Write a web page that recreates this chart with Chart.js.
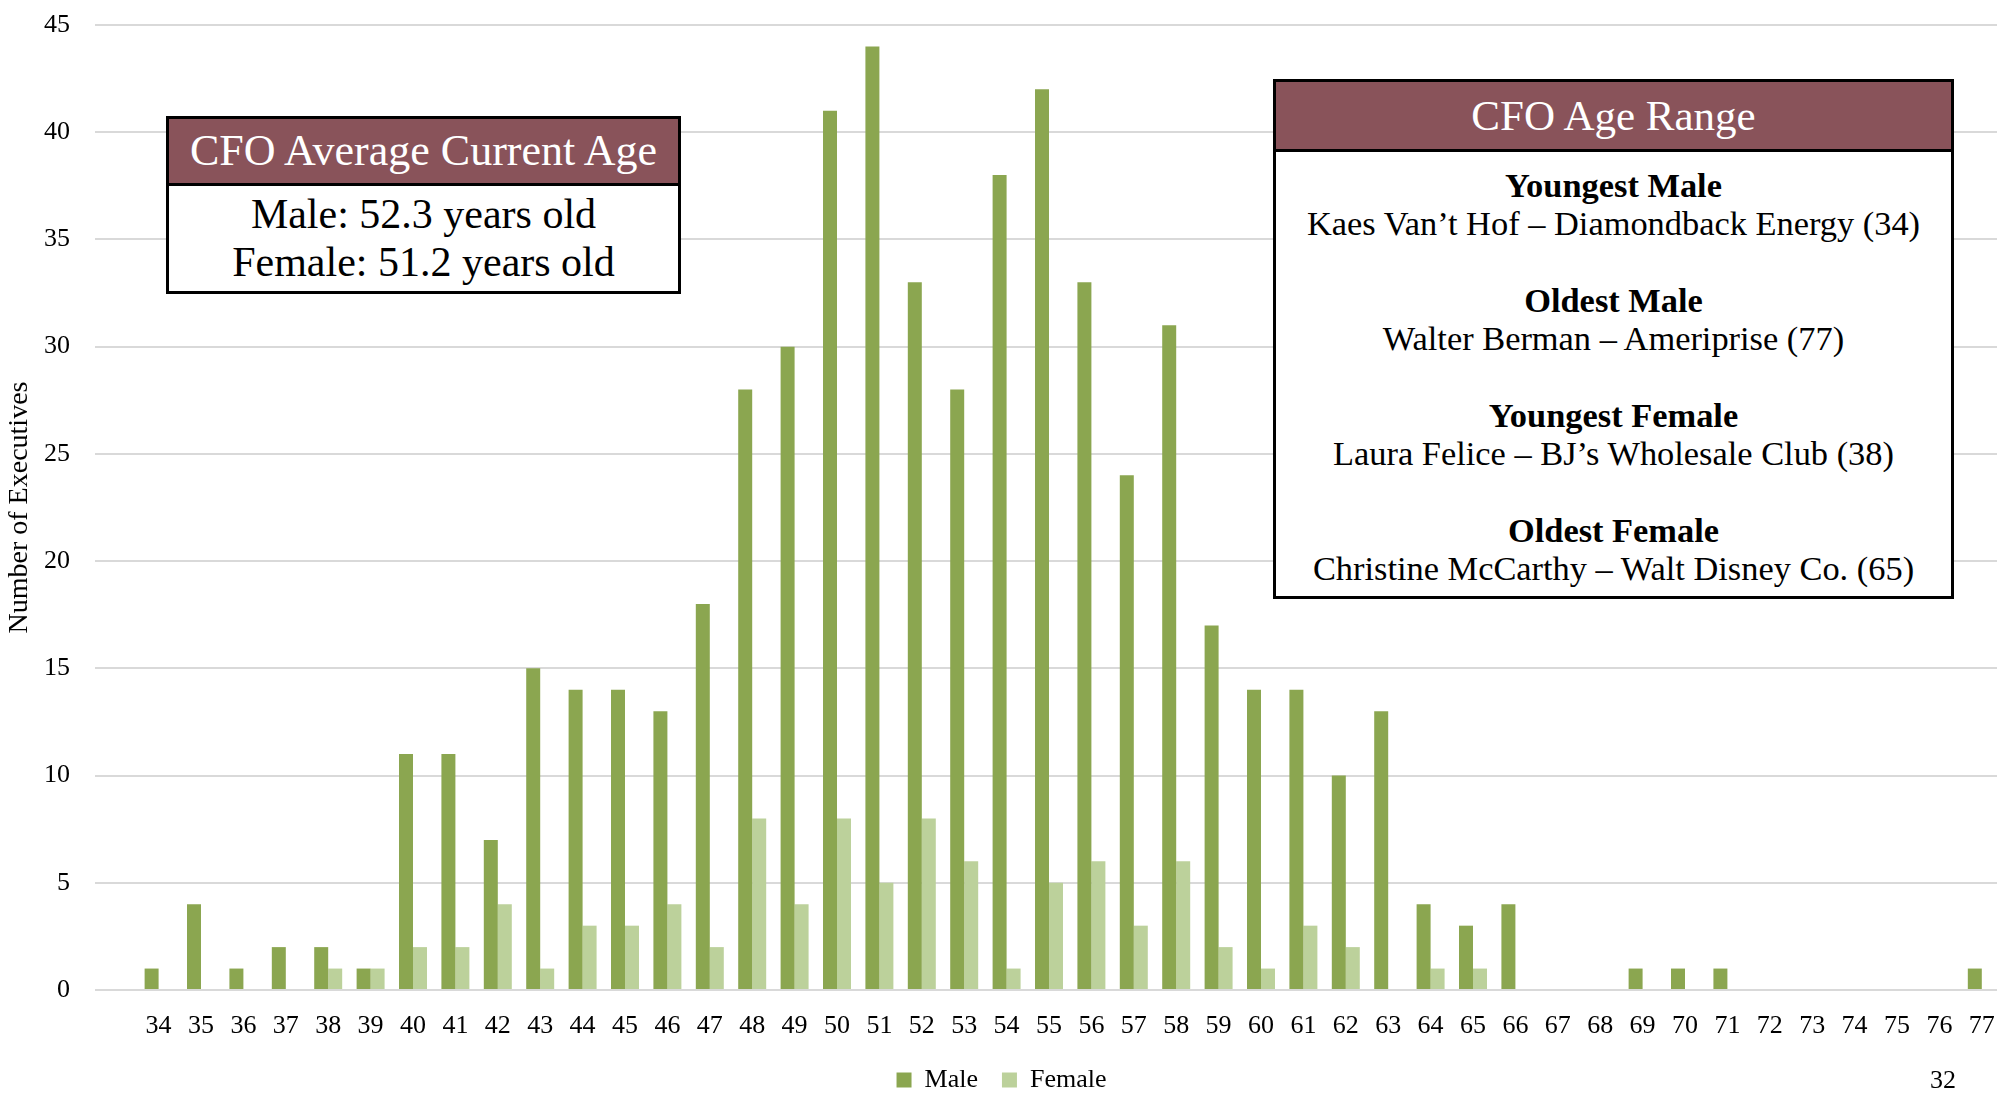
<!DOCTYPE html>
<html>
<head>
<meta charset="utf-8">
<title>CFO Age Distribution</title>
<script src="https://cdn.jsdelivr.net/npm/chart.js@4.4.1/dist/chart.umd.min.js"></script>
<style>
  html, body { margin: 0; padding: 0; background: #fff; overflow: hidden; }
  body { width: 1997px; height: 1093px; position: relative; font-family: "Liberation Serif", serif; }
  #wrap { position: absolute; left: 0; top: 0; width: 2003px; height: 1093px; }
  .box { position: absolute; box-sizing: border-box; border: 3px solid #000; background: #fff; text-align: center; }
  .box .head { background: #89535a; color: #fff; border-bottom: 3px solid #000; box-sizing: border-box; }
  #avgBox { left: 166px; top: 116px; width: 515px; height: 178px; }
  #avgBox .head { height: 67px; line-height: 64px; font-size: 44px; }
  #avgBox .body { font-size: 42px; line-height: 48px; padding-top: 4px; }
  #rangeBox { left: 1273px; top: 79px; width: 681px; height: 520px; }
  #rangeBox .head { height: 70px; line-height: 67px; font-size: 43px; }
  #rangeBox .body { font-size: 34.4px; line-height: 38px; padding-top: 14px; }
  #rangeBox .grp { margin-bottom: 39px; }
  #rangeBox b { font-weight: bold; }
  #pageNo { position: absolute; left: 1930px; top: 1065px; font-size: 26px; color: #000; }
</style>
</head>
<body>
<div id="wrap"><canvas id="myChart"></canvas></div>

<div class="box" id="avgBox">
  <div class="head">CFO Average Current Age</div>
  <div class="body">Male: 52.3 years old<br>Female: 51.2 years old</div>
</div>

<div class="box" id="rangeBox">
  <div class="head">CFO Age Range</div>
  <div class="body">
    <div class="grp"><b>Youngest Male</b><br>Kaes Van’t Hof – Diamondback Energy (34)</div>
    <div class="grp"><b>Oldest Male</b><br>Walter Berman – Ameriprise (77)</div>
    <div class="grp"><b>Youngest Female</b><br>Laura Felice – BJ’s Wholesale Club (38)</div>
    <div class="grp"><b>Oldest Female</b><br>Christine McCarthy – Walt Disney Co. (65)</div>
  </div>
</div>

<div id="pageNo">32</div>

<script>
// ages 34..77
const ages = ['34','35','36','37','38','39','40','41','42','43','44','45','46','47','48','49','50','51','52','53','54','55',
  '56','57','58','59','60','61','62','63','64','65','66','67','68','69','70','71','72','73','74','75','76','77'];
const maleCounts = [1,4,1,2,2,1,11,11,7,15,14,14,13,18,28,30,41,44,33,28,38,42,
  33,24,31,17,14,14,10,13,4,3,4,0,0,1,1,1,0,0,0,0,0,1];
const femaleCounts = [0,0,0,0,1,1,2,2,4,1,3,3,4,2,8,4,8,5,8,6,1,5,
  6,3,6,2,1,3,2,0,1,1,0,0,0,0,0,0,0,0,0,0,0,0];
const yTicks = [0,5,10,15,20,25,30,35,40,45];

const serif = 'Liberation Serif';
const clear = 'rgba(0,0,0,0)';

function initChart(target){
  // the original leaves one empty slot before age 34
  const labels = [''].concat(ages);
  const chart = new Chart(target, {
    type: 'bar',
    data: {
      labels: labels,
      datasets: [{
        label: 'Male',
        data: [null].concat(maleCounts),
        backgroundColor: '#8ba650',
        categoryPercentage: 0.66,
        barPercentage: 1.0
      }, {
        label: 'Female',
        data: [null].concat(femaleCounts),
        backgroundColor: '#bcd19b',
        categoryPercentage: 0.66,
        barPercentage: 1.0
      }]
    },
    options: {
      responsive: true,
      maintainAspectRatio: false,
      animation: false,
      layout: { padding: { top: 25, left: 0, right: 0, bottom: -10 } },
      plugins: {
        tooltip: { enabled: false },
        legend: {
          position: 'bottom',
          labels: {
            boxWidth: 15,
            boxHeight: 15,
            padding: 24,
            color: '#000',
            font: { family: serif, size: 26 }
          }
        }
      },
      scales: {
        x: {
          // invisible tick marks give the label gap without widening the scale padding
          grid: { color: clear, tickColor: clear, drawTicks: true, tickLength: 21 },
          border: { display: false },
          ticks: {
            autoSkip: false,
            maxRotation: 0,
            padding: 0,
            color: '#000',
            font: { family: serif, size: 26 }
          },
          afterFit: (scale) => { scale.height = 53; }
        },
        y: {
          min: 0,
          max: 45,
          afterBuildTicks: (scale) => { scale.ticks = yTicks.map(v => ({ value: v })); },
          grid: { color: '#d9d9d9', lineWidth: 2, drawTicks: true, tickLength: 25, tickColor: clear },
          border: { display: false },
          ticks: {
            padding: 0,
            color: '#000',
            font: { family: serif, size: 26 }
          },
          title: {
            display: true,
            text: 'Number of Executives',
            color: '#000',
            padding: { top: 3, bottom: 0 },
            font: { family: serif, size: 28 }
          },
          afterFit: (scale) => { scale.width = 95; }
        }
      }
    }
  });
  return chart;
}

document.addEventListener('DOMContentLoaded', () => initChart(document.querySelector('#myChart')));
</script>
</body>
</html>
